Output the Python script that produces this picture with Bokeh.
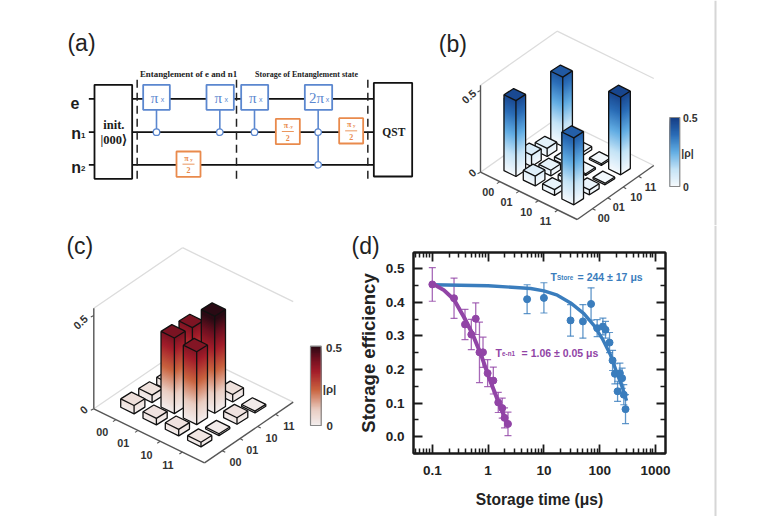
import math
from bokeh.plotting import figure
from bokeh.layouts import column, row
from bokeh.models import (Range1d, FixedTicker, LinearAxis, LogAxis, Whisker,
                          TeeHead, ColumnDataSource, PrintfTickFormatter)
from bokeh.core.properties import value
from bokeh.embed import file_html
from bokeh.resources import INLINE

# ---------- data ----------
rho_b = [[.465, .07, .05, .425],
         [.06, .035, .02, .02],
         [.035, .03, .01, .01],
         [.41, .03, .01, .475]]
rho_c = [[.045, .04, .04, .02],
         [.035, .405, .40, .02],
         [.035, .39, .52, .04],
         [.025, .01, .035, .01]]
basis_labels = ["00", "01", "10", "11"]

store_t = [5, 10, 30, 50, 70, 90, 114, 127, 150, 170, 187, 209, 230, 252, 270, 290]
store_y = [.409, .413, .346, .343, .395, .323, .328, .318, .28, .227, .187, .135, .189, .174, .125, .082]
store_e = [.043, .045, .047, .05, .048, .025, .025, .025, .03, .03, .03, .03, .03, .03, .03, .043]
store_fit_t = [.1, 1, 5.78, 10, 17.4, 30.1, 52, 78.7, 111, 157, 206, 254, 303]
store_fit_y = [.452, .449, .441, .434, .421, .398, .366, .331, .292, .242, .187, .147, .107]

en_t = [.1, .245, .385, .5, .6, .7, .81, .98, 1.24, 1.52, 1.79, 1.97, 2.27]
en_y = [.453, .412, .334, .304, .351, .251, .251, .189, .167, .102, .085, .056, .038]
en_e = [.05, .06, .045, .045, .047, .09, .045, .04, .04, .03, .03, .03, .035]
en_fit_t = [.1, .161, .244, .368, .521, .734, 1.03, 1.5, 2.2]
en_fit_y = [.456, .436, .408, .356, .307, .247, .177, .107, .038]

x_ticks = [.1, 1, 10, 100, 1000]
y_ticks = [0, .1, .2, .3, .4, .5]
x_tick_labels = ["0.1", "1", "10", "100", "1000"]

SANS = "Liberation Sans"
SERIF = "Liberation Serif"
BLUE, ORANGE = "#5b87cf", "#e98a4c"
DARK = "#1c1c1c"


def canvas(x0, x1, y0, y1):
    p = figure(width=x1 - x0, height=y1 - y0, x_range=Range1d(x0, x1), y_range=Range1d(y1, y0),
               x_axis_location=None, y_axis_location=None, toolbar_location=None,
               output_backend="svg", min_border=0, outline_line_color=None, tools="",
               frame_align=False)
    p.grid.visible = False
    return p


def txt(p, x, y, s, size, color=DARK, font=SANS, style="normal", align="center", angle=0):
    p.text([x], [y], text=[s], text_font=value(font), text_font_size=f"{size}px",
           text_font_style=style, text_color=color, text_align=align,
           text_baseline="middle", angle=angle)


# ---------- panel a ----------
pa = canvas(0, 425, 0, 225)
Z = lambda zx, zy: (50 + zx / 3, 20 + zy / 3)


def zline(p, a, b, color="#111111", width=1.6, dash="solid"):
    (x0, y0), (x1, y1) = Z(*a), Z(*b)
    p.line([x0, x1], [y0, y1], line_color=color, line_width=width, line_dash=dash)


def zbox(p, x0, y0, x1, y1, color, width=1.8):
    (a, b), (c, d) = Z(x0, y0), Z(x1, y1)
    p.quad(left=a, right=c, top=b, bottom=d, fill_color="white", line_color=color, line_width=width)


for wy in (235, 335, 433):
    zline(pa, (115, wy), (970, wy))
for dx_ in (260, 558, 952):
    zline(pa, (dx_, 178), (dx_, 482), color="#222222", width=1.5, dash="8 5")
zbox(pa, 132, 193, 245, 475, "#111111")
zbox(pa, 970, 187, 1085, 468, "#111111")
for cx, y1 in ((318, 335), (508, 335), (612, 335), (803, 433)):
    zline(pa, (cx, 268), (cx, y1), color=BLUE, width=1.6)
for zx, zy in ((318, 335), (508, 335), (612, 335), (803, 335), (803, 433)):
    x, y = Z(zx, zy)
    pa.scatter([x], [y], size=6.5, fill_color="white", line_color=BLUE, line_width=1.3)
for x0, x1, s in ((278, 358, "\u03c0"), (468, 550, "\u03c0"), (572, 653, "\u03c0"), (763, 845, "2\u03c0")):
    zbox(pa, x0, 193, x1, 268, BLUE)
    xc, yc = Z((x0 + x1) / 2, 231)
    txt(pa, xc - 2, yc, s, 15, BLUE, SERIF)
    txt(pa, xc + (6 if s == "\u03c0" else 9), yc + 2, "x", 7, BLUE, SANS)
for x0, y0, s in ((378, 393, "y"), (676, 295, "-y"), (866, 293, "y")):
    zbox(pa, x0, y0, x0 + 72, y0 + 76, ORANGE)
    xc, yc = Z(x0 + 36, y0 + 38)
    txt(pa, xc - 2, yc - 6, "\u03c0", 8, ORANGE, SERIF, "bold")
    txt(pa, xc + 3, yc - 5, s, 5, ORANGE, SERIF, "bold")
    pa.line([xc - 6, xc + 6], [yc, yc], line_color=ORANGE, line_width=0.9)
    txt(pa, xc, yc + 6, "2", 8, ORANGE, SERIF, "bold")
txt(pa, *Z(414, 161), "Entanglement of e and n1", 8.9, "#222222", SERIF, "bold")
txt(pa, *Z(768, 161), "Storage of Entanglement state", 8.0, "#222222", SERIF, "bold")
txt(pa, *Z(190, 312), "init.", 12.5, DARK, SERIF, "bold")
txt(pa, *Z(190, 358), "|000\u27e9", 12.5, DARK, SERIF, "bold")
txt(pa, *Z(1030, 335), "QST", 11.5, DARK, SERIF, "bold")
txt(pa, *Z(73, 246), "e", 16, DARK, SANS, "bold")
txt(pa, *Z(77, 340), "n", 16, DARK, SANS, "bold")
txt(pa, *Z(98, 344), "1", 8, DARK, SANS, "bold")
txt(pa, *Z(77, 440), "n", 16, DARK, SANS, "bold")
txt(pa, *Z(98, 444), "2", 8, DARK, SANS, "bold")
txt(pa, *Z(93, 68), "(a)", 23, "#222222")


# ---------- 3D panels ----------
def mix(stops, t):
    t = max(0.0, min(1.0, t))
    for (t0, c0), (t1, c1) in zip(stops, stops[1:]):
        if t <= t1:
            f = (t - t0) / (t1 - t0)
            ch = [int(c0[i:i + 2], 16) * (1 - f) + int(c1[i:i + 2], 16) * f for i in (1, 3, 5)]
            return "#%02x%02x%02x" % tuple(round(v) for v in ch)
    return stops[-1][1]


CM_B = [(0, "#f6fafd"), (.25, "#c4e3f6"), (.5, "#62ade3"), (.75, "#2a6cb6"), (1, "#143c84")]
CM_C = [(0, "#f3eeee"), (.2, "#e9cdc2"), (.45, "#c9633f"), (.68, "#a31d2a"), (.85, "#6d1020"), (1, "#2a0a14")]


def bars3d(p, rho, cm, org, u, v, up, w, L, F, R, wall_h, labels_pos):
    B = (L[0] + R[0] - F[0], L[1] + R[1] - F[1])
    top = lambda c: (c[0], c[1] - wall_h)
    for a, b in ((L, B), (B, R), (top(L), top(B)), (top(B), top(R))):
        p.line([a[0], b[0]], [a[1], b[1]], line_color="#dcdcdc", line_width=1.3)
    for a, b in ((L, F), (F, R), (L, top(L))):
        p.line([a[0], b[0]], [a[1], b[1]], line_color="#555555", line_width=1.4)
    t5 = L[1] - up * .5
    p.line([L[0], L[0] - 3], [t5, t5 + 1.5], line_color="#555555", line_width=1.2)
    p.line([L[0], L[0] - 3], [L[1], L[1] + 1.5], line_color="#555555", line_width=1.2)
    for k in range(1, 5):
        x = L[0] + (F[0] - L[0]) * k / 5; y = L[1] + (F[1] - L[1]) * k / 5
        p.line([x, x - 3], [y, y + 2], line_color="#555555", line_width=1.1)
        x = F[0] + (R[0] - F[0]) * k / 5; y = F[1] + (R[1] - F[1]) * k / 5
        p.line([x, x + 3], [y, y + 1.6], line_color="#555555", line_width=1.1)
    order = sorted(((i, j) for i in range(4) for j in range(4)), key=lambda c: c[0] - c[1])
    for i, j in order:
        h = rho[i][j]
        cx = org[0] + i * u[0] + j * v[0]
        cy = org[1] + i * u[1] + j * v[1]
        corner = lambda a, b: (cx + a * w * u[0] + b * w * v[0], cy + a * w * u[1] + b * w * v[1])
        lc, fc, rc, bc = corner(-1, -1), corner(1, -1), corner(1, 1), corner(-1, 1)
        n = max(1, int(h / 0.008))
        xs, ys, cols = [], [], []
        for k in range(n):
            z0, z1 = h * k / n, h * (k + 1) / n
            col = mix(cm, (z0 + z1) / 2 / .5)
            for a, b in ((lc, fc), (fc, rc)):
                xs.append([a[0], b[0], b[0], a[0]])
                ys.append([a[1] - up * z0, b[1] - up * z0, b[1] - up * h, a[1] - up * h])
                cols.append(col)
        p.patches(xs, ys, fill_color=cols, line_color=None)
        H = up * h
        tc = mix(cm, h / .5)
        p.patch([q[0] for q in (lc, fc, rc, bc)], [q[1] - H for q in (lc, fc, rc, bc)],
                fill_color=tc, line_color="#111111", line_width=1.3)
        p.line([lc[0], lc[0], fc[0], rc[0], rc[0]],
               [lc[1] - H, lc[1], fc[1], rc[1], rc[1] - H], line_color="#111111", line_width=1.3)
        p.line([fc[0], fc[0]], [fc[1], fc[1] - H], line_color="#111111", line_width=1.3)
    for s, (x, y) in zip(basis_labels + basis_labels, labels_pos):
        txt(p, x, y, s, 10.8, "#333333", SANS, "bold")


def colorbar(p, x0, x1, y0, y1, cm):
    n = 60
    dy_ = (y1 - y0) / n
    for k in range(n):
        col = mix(cm, 1 - (k + .5) / n)
        p.quad(left=x0, right=x1, top=y0 + k * dy_, bottom=y1,
               fill_color=col, line_color=None)
    p.quad(left=x0, right=x1, top=y0, bottom=y1, fill_color=None, line_color="#888888", line_width=1.2)


pb = canvas(425, 775, 0, 225)
zb = lambda a, b: (420 + a / 3, 20 + b / 3)
bars3d(pb, rho_b, CM_B, (514.3, 170), (19.3, 9.43), (15.6, -10), 163.3, .31,
       (480, 171.7), (576.7, 219), (653.3, 165), 87,
       [zb(203, 515), zb(258, 543), zb(317, 573), zb(375, 600),
        zb(550, 592), zb(595, 560), zb(647, 530), zb(690, 498)])
colorbar(pb, 669.3, 679.3, 117, 186, CM_B)
txt(pb, 682.5, 117.5, "0.5", 10.5, "#333333", SANS, "bold", "left")
txt(pb, 682.5, 186.5, "0", 10.5, "#333333", SANS, "bold", "left")
txt(pb, 687, 152.5, "|\u03c1|", 10.5, "#333333", SANS, "bold")
txt(pb, *zb(145, 228), "0.5", 10.8, "#333333", SANS, "bold", angle=0.75)
txt(pb, *zb(155, 457), "0", 10.8, "#333333", SANS, "bold", angle=0.75)
txt(pb, *zb(97, 70), "(b)", 23, "#222222")

pc = canvas(0, 350, 225, 516)
zc = lambda a, b: (50 + a / 3, 225 + b / 3)
bars3d(pc, rho_c, CM_C, (132.3, 406.7), (22.3, 11), (18, -11.3), 186.7, .3,
       (93.3, 408.3), (204, 462.3), (292.7, 401.7), 100.5,
       [zc(155, 620), zc(218, 653), zc(288, 687), zc(352, 718),
        zc(555, 710), zc(605, 672), zc(663, 636), zc(715, 600)])
colorbar(pc, 310, 320.7, 345.7, 425, CM_C)
txt(pc, 325.5, 347, "0.5", 11.5, "#333333", SANS, "bold", "left")
txt(pc, 326, 425.5, "0", 11.5, "#333333", SANS, "bold", "left")
txt(pc, 329, 388.5, "|\u03c1|", 11.5, "#333333", SANS, "bold")
txt(pc, *zc(90, 290), "0.5", 11, "#333333", SANS, "bold", angle=0.75)
txt(pc, *zc(100, 553), "0", 11, "#333333", SANS, "bold", angle=0.75)
txt(pc, *zc(88, 62), "(c)", 23, "#222222")

# ---------- strip with panel label and vertical title of d ----------
pg = canvas(350, 381, 225, 516)
txt(pg, 351, 245, "(d)", 23, "#222222", align="left")
txt(pg, 368, 352.5, "Storage efficiency", 18.5, "#222222", SANS, "bold", angle=math.pi / 2)

# ---------- panel d ----------
pd = figure(width=319, height=291, x_axis_type="log", x_range=Range1d(.046, 1510), y_range=Range1d(-.05, .548),
            toolbar_location=None, output_backend="svg", tools="", frame_align=False,
            min_border_left=32, min_border_right=35, min_border_top=27, min_border_bottom=63,
            outline_line_color="#1a1a1a", outline_line_width=2)
pd.grid.visible = False
x_minor = [m * d for d in (.01, .1, 1, 10, 100, 1000) for m in range(2, 10)]
y_minor = [t + .05 for t in y_ticks] + [-.05]
xt = FixedTicker(ticks=x_ticks, minor_ticks=x_minor)
yt = FixedTicker(ticks=y_ticks, minor_ticks=y_minor)


def style_axis(ax, labelled):
    ax.axis_line_width = 2
    ax.axis_line_color = "#1a1a1a"
    ax.major_tick_in = 9
    ax.major_tick_out = 0
    ax.minor_tick_in = 5
    ax.minor_tick_out = 0
    ax.major_tick_line_width = 1.8
    ax.minor_tick_line_width = 1.5
    ax.major_tick_line_color = "#1a1a1a"
    ax.minor_tick_line_color = "#1a1a1a"
    if labelled:
        ax.major_label_text_font = SANS
        ax.major_label_text_font_style = "bold"
        ax.major_label_text_font_size = "13.5px"
        ax.major_label_text_color = "#222222"
        ax.axis_label_text_font = SANS
        ax.axis_label_text_font_style = "bold"
        ax.axis_label_text_color = "#222222"
    else:
        ax.major_label_text_font_size = "0px"
        ax.major_label_text_color = None


bx = pd.xaxis[0]
bx.ticker = xt
bx.major_label_overrides = dict(zip([float(t) for t in x_ticks], x_tick_labels))
bx.axis_label = "Storage time (\u03bcs)"
style_axis(bx, True)
bx.axis_label_text_font_size = "15.6px"
bx.major_label_standoff = 12
bx.axis_label_standoff = 13
ly = pd.yaxis[0]
ly.ticker = yt
ly.formatter = PrintfTickFormatter(format="%.1f")
style_axis(ly, True)
ly.major_label_standoff = 9
top_ax = LogAxis(ticker=xt)
style_axis(top_ax, False)
pd.add_layout(top_ax, "above")
right_ax = LinearAxis(ticker=yt)
style_axis(right_ax, False)
pd.add_layout(right_ax, "right")

C_S, C_E = "#3a7dbd", "#9144a6"
for t, y, e, col in ((store_t, store_y, store_e, C_S), (en_t, en_y, en_e, C_E)):
    src = ColumnDataSource(dict(t=t, lo=[a - b for a, b in zip(y, e)], hi=[a + b for a, b in zip(y, e)]))
    head = dict(size=7, line_color=col, line_width=1.2, line_alpha=.8)
    pd.add_layout(Whisker(source=src, base="t", lower="lo", upper="hi", line_color=col, line_width=1.3,
                          line_alpha=.8, upper_head=TeeHead(**head), lower_head=TeeHead(**head)))
pd.line(store_fit_t, store_fit_y, line_color=C_S, line_width=3.4)
pd.line(en_fit_t, en_fit_y, line_color=C_E, line_width=4)
pd.scatter(store_t, store_y, size=7, fill_color=C_S, line_color=C_S)
pd.scatter(en_t, en_y, size=7, fill_color=C_E, line_color=C_E)


def dx(px):
    return 10 ** ((px - 431.7) / 55.8 - 1)


def dy(px):
    return (436 - px) / 335


def dt(px, py, s, size, col):
    pd.text([dx(px)], [dy(py)], text=[s], text_font=value(SANS), text_font_style="bold",
            text_font_size=f"{size}px", text_color=col, text_align="left", text_baseline="middle")


dt(550, 276.7, "T", 10.5, C_S)
dt(556.5, 277.5, "Store", 6.3, C_S)
dt(577, 276.7, "= 244 \u00b1 17 \u03bcs", 10.5, C_S)
dt(495, 352.5, "T", 10.5, C_E)
dt(501.5, 353.5, "e-n1", 6.3, C_E)
dt(521, 352.5, "= 1.06 \u00b1 0.05 \u03bcs", 10.5, C_E)

# ---------- edge line ----------
pe = canvas(700, 775, 225, 516)
pb.line([715, 715], [0, 225], line_color="#d6d6d6", line_width=2)
pe.line([715, 715], [225, 516], line_color="#d6d6d6", line_width=2)

page = column(row(pa, pb, spacing=0), row(pc, pg, pd, pe, spacing=0), spacing=0)
open("out.html", "w").write(file_html(page, INLINE))
